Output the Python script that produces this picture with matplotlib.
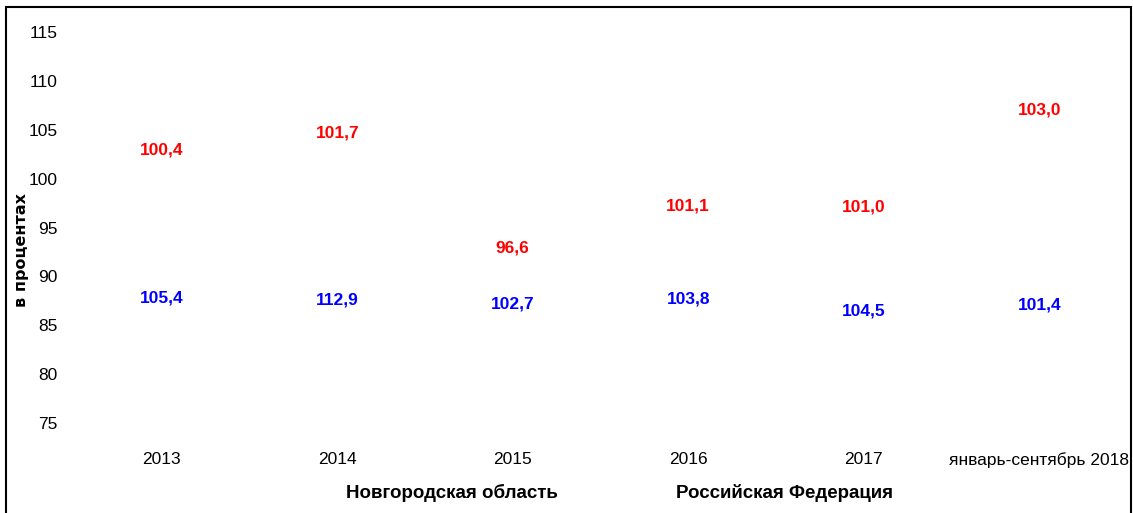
import matplotlib
matplotlib.use("Agg")
import matplotlib.pyplot as plt
from matplotlib.patches import Rectangle

plt.rcParams["font.family"] = ["Liberation Sans", "DejaVu Sans"]

# data
periods = ["2013", "2014", "2015", "2016", "2017", "январь-сентябрь 2018"]
novgorod = [100.4, 101.7, 96.6, 101.1, 101.0, 103.0]
russia = [105.4, 112.9, 102.7, 103.8, 104.5, 101.4]
series_names = ["Новгородская область", "Российская Федерация"]

fig = plt.figure(figsize=(11.33, 5.13), dpi=100)
ax = fig.add_axes([0.0653, 0.1754, 0.9294, 0.7622])

x = range(len(periods))
# the original lines are drawn in white, only their labels are visible
ax.plot(x, novgorod, color="white", linewidth=2, label=series_names[0])
ax.plot(x, russia, color="white", linewidth=2, label=series_names[1])

# labels were placed by hand in the source chart
red_pos = [102.9, 104.7, 92.9, 97.2, 97.1, 107.0]
blue_pos = [87.8, 87.6, 87.2, 87.7, 86.5, 87.1]
for i, (v, p) in enumerate(zip(novgorod, red_pos)):
    ax.text(i, p, f"{v:.1f}".replace(".", ","), color="#ff0000",
            fontsize=12.5, fontweight="bold", ha="center", va="center")
for i, (v, p) in enumerate(zip(russia, blue_pos)):
    ax.text(i, p, f"{v:.1f}".replace(".", ","), color="#0000ff",
            fontsize=12.5, fontweight="bold", ha="center", va="center")

ax.set_xlim(-0.5, len(periods) - 0.5)
ax.set_ylim(75, 115)
ax.set_yticks(range(75, 116, 5))
ax.set_xticks(list(x))
ax.set_xticklabels(periods)
ax.tick_params(axis="both", length=0, labelsize=12.5)
ax.tick_params(axis="y", pad=12)
ax.tick_params(axis="x", pad=21)
for s in ax.spines.values():
    s.set_visible(False)

fig.text(0.0194, 0.5127, "в процентах", rotation=90, fontsize=11.5,
         fontweight="bold", family=["DejaVu Sans"], ha="center", va="center")

fig.legend(loc="center", bbox_to_anchor=(0.5234, 0.04), ncol=2, frameon=False,
           prop={"size": 13.5, "weight": "bold"}, handlelength=2,
           handletextpad=0.8, columnspacing=3.5)

fig.patches.append(Rectangle((0.005, -0.01), 0.993, 0.997, transform=fig.transFigure,
                             fill=False, edgecolor="black", linewidth=1.5))

fig.savefig("out.png", dpi=100)
